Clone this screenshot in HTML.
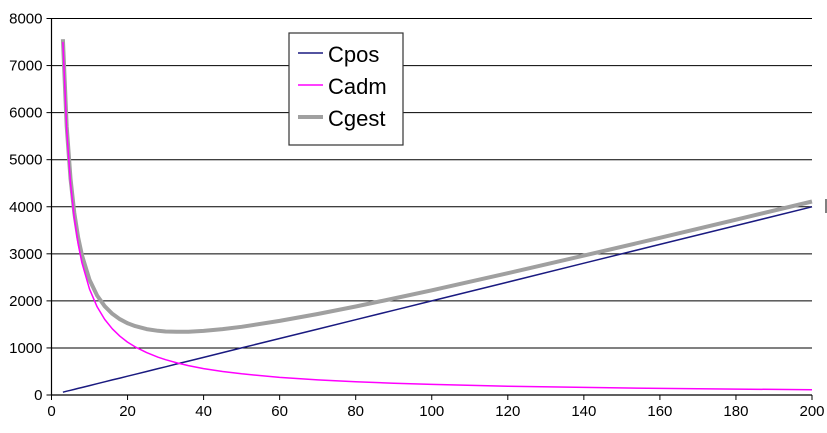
<!DOCTYPE html>
<html><head><meta charset="utf-8"><style>
body{margin:0;background:#fff;}
svg text{font-family:"Liberation Sans",Arial,sans-serif;}
</style></head><body>
<svg id="chart" width="827" height="428" xmlns="http://www.w3.org/2000/svg">
<g id="grid"></g><g id="axes"></g><g id="series"></g>
<g>
<rect x="289" y="33" width="114" height="112" fill="#fff" stroke="#333" stroke-width="1.2"/>
<line x1="298" y1="53" x2="323" y2="53" stroke="#1a1a80" stroke-width="1.5"/>
<text x="328" y="62" font-size="22">Cpos</text>
<line x1="298" y1="85" x2="323" y2="85" stroke="#ff00ff" stroke-width="1.5"/>
<text x="328" y="94" font-size="22">Cadm</text>
<line x1="298" y1="117" x2="323" y2="117" stroke="#a0a0a0" stroke-width="4"/>
<text x="328" y="126" font-size="22">Cgest</text>
</g>
<line x1="826" y1="199" x2="826" y2="213" stroke="#000" stroke-width="1"/>
</svg>
<script>
const xs=[3,4,5,6,7,8,10,12,14,16,18,20,22,25,28,30,33,36,40,45,50,60,70,80,90,100,120,140,160,180,200];
const cadm=[7500,5625,4500,3750,3214,2812,2250,1875,1607,1406,1250,1125,1023,900,804,750,682,625,562,500,450,375,321,281,250,225,187,161,141,125,112];
const cpos=[60,80,100,120,140,160,200,240,280,320,360,400,440,500,560,600,660,720,800,900,1000,1200,1400,1600,1800,2000,2400,2800,3200,3600,4000];
const cgest=[7560,5705,4600,3870,3354,2972,2450,2115,1887,1726,1610,1525,1463,1400,1364,1350,1342,1345,1362,1400,1450,1575,1721,1881,2050,2225,2587,2961,3341,3725,4112];
const yTicks=[0,1000,2000,3000,4000,5000,6000,7000,8000];
const xTicks=[0,20,40,60,80,100,120,140,160,180,200];
const X=v=>51.5+v*(812-51.5)/200;
const Y=v=>395-v*(395-18.5)/8000;
const NS="http://www.w3.org/2000/svg";
function mk(tag,attrs,parent){const e=document.createElementNS(NS,tag);for(const k in attrs)e.setAttribute(k,attrs[k]);parent.appendChild(e);return e;}
const grid=document.getElementById('grid'),axes=document.getElementById('axes'),ser=document.getElementById('series');
yTicks.forEach(t=>{
 if(t>0){const g=mk('line',{x1:X(0),x2:X(200),y1:Y(t),y2:Y(t),stroke:'#000','stroke-width':1},grid);
 
 }
 mk('line',{x1:X(0)-5,x2:X(0),y1:Y(t),y2:Y(t),stroke:'#000'},axes);
 const l=mk('text',{x:X(0)-9,y:Y(t)+5,'font-size':15,'text-anchor':'end'},axes);l.textContent=t;
 
 
});
xTicks.forEach(t=>{
 mk('line',{x1:X(t),x2:X(t),y1:Y(0),y2:Y(0)+5,stroke:'#000'},axes);
 const l=mk('text',{x:X(t),y:416,'font-size':15,'text-anchor':'middle'},axes);l.textContent=t;
 
 
});
const ya=mk('line',{x1:X(0),x2:X(0),y1:Y(0),y2:Y(8000),stroke:'#000','stroke-width':1.2},axes);


const xa=mk('line',{x1:X(0),x2:X(200),y1:Y(0),y2:Y(0),stroke:'#000','stroke-width':1.2},axes);


function line(vals,color,w,name){
 const d=xs.map((x,i)=>(i?'L':'M')+X(x).toFixed(1)+','+Y(vals[i]).toFixed(1)).join('');
 const p=mk('path',{d:d,fill:'none',stroke:color,'stroke-width':w,'stroke-linejoin':'round'},ser);
 
 
}
line(cgest,'#a0a0a0',4,'cgest-line');
line(cpos,'#1a1a80',1.5,'cpos-line');
line(cadm,'#ff00ff',1.5,'cadm-line');
</script>
</body></html>
